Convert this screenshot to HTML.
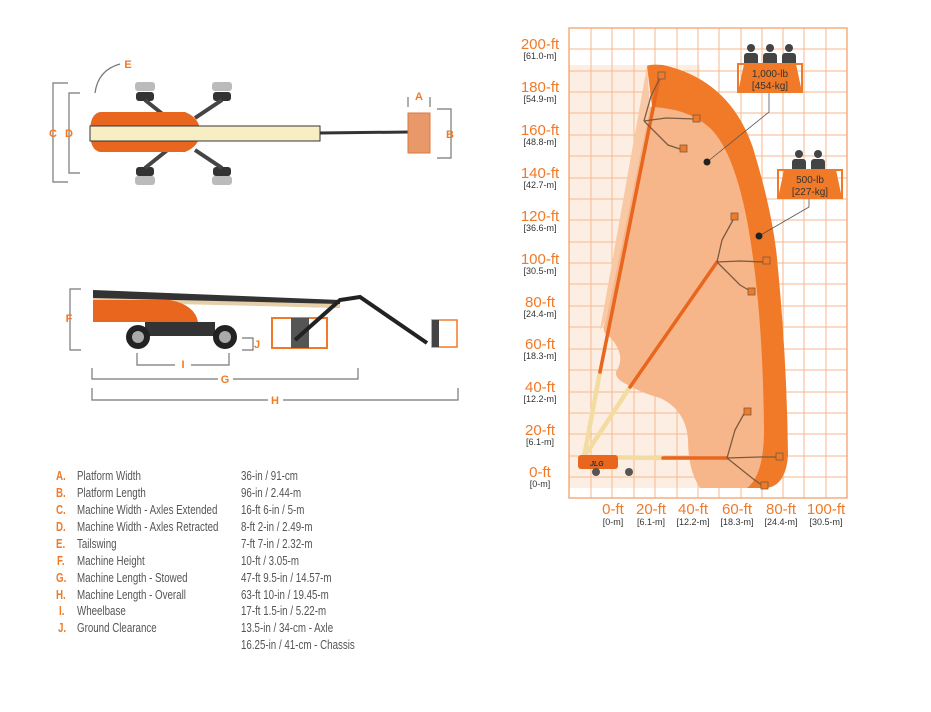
<!DOCTYPE html>
<html><head><meta charset="utf-8"><style>
body{margin:0;background:#fff;width:931px;height:712px;overflow:hidden;position:relative;font-family:"Liberation Sans",sans-serif}
.specs{position:absolute;left:0;top:0}
.r{position:absolute;font-size:12.5px;color:#555;white-space:nowrap;transform-origin:0 50%;transform:scaleX(0.78);line-height:14px}
.l{color:#f07a28;font-weight:bold}
</style></head><body>
<svg width="931" height="712" style="position:absolute;left:0;top:0" font-family="Liberation Sans, sans-serif">
<rect x="569" y="65" width="131" height="423" fill="#fdeee3"/>
<g stroke="#f6b98e" stroke-width="1">
<line x1="591" y1="28" x2="591" y2="498"/><line x1="612" y1="28" x2="612" y2="498"/><line x1="634" y1="28" x2="634" y2="498"/><line x1="655" y1="28" x2="655" y2="498"/><line x1="677" y1="28" x2="677" y2="498"/><line x1="698" y1="28" x2="698" y2="498"/><line x1="719" y1="28" x2="719" y2="498"/><line x1="741" y1="28" x2="741" y2="498"/><line x1="762" y1="28" x2="762" y2="498"/><line x1="783" y1="28" x2="783" y2="498"/><line x1="804" y1="28" x2="804" y2="498"/><line x1="826" y1="28" x2="826" y2="498"/>
<line x1="569" y1="49" x2="847" y2="49"/><line x1="569" y1="71" x2="847" y2="71"/><line x1="569" y1="92" x2="847" y2="92"/><line x1="569" y1="113" x2="847" y2="113"/><line x1="569" y1="135" x2="847" y2="135"/><line x1="569" y1="156" x2="847" y2="156"/><line x1="569" y1="178" x2="847" y2="178"/><line x1="569" y1="199" x2="847" y2="199"/><line x1="569" y1="220" x2="847" y2="220"/><line x1="569" y1="242" x2="847" y2="242"/><line x1="569" y1="263" x2="847" y2="263"/><line x1="569" y1="284" x2="847" y2="284"/><line x1="569" y1="306" x2="847" y2="306"/><line x1="569" y1="327" x2="847" y2="327"/><line x1="569" y1="349" x2="847" y2="349"/><line x1="569" y1="370" x2="847" y2="370"/><line x1="569" y1="392" x2="847" y2="392"/><line x1="569" y1="413" x2="847" y2="413"/><line x1="569" y1="434" x2="847" y2="434"/><line x1="569" y1="456" x2="847" y2="456"/><line x1="569" y1="477" x2="847" y2="477"/>
</g>
<rect x="569" y="28" width="278" height="470" fill="none" stroke="#f3a16a" stroke-width="1.3"/>
<path d="M647 66 Q650 64 663 65 Q730 80 753 148 Q772 210 777 258 Q787 360 788 455 Q786 485 767 488 L700 488 Z" fill="#f07a28"/>
<path d="M650 107 Q690 108 712 130 Q740 160 753 258 Q763 330 764 430 Q764 475 747 488 L700 488 Q688 470 688 440 Q686 410 660 398 Q640 392 630 386 Q612 378 617 370 Q626 355 610 337 Q600 333 606 320 Z" fill="#f7b68a"/>
<path d="M647 66 L650 107 L606 320 L600 330 Z" fill="#f9c9a6"/>
<g stroke-linecap="round">
<line x1="584" y1="457" x2="600" y2="372" stroke="#f3dca0" stroke-width="4.5"/>
<line x1="600" y1="372" x2="660" y2="74" stroke="#e8661e" stroke-width="3.5"/>
<line x1="584" y1="457" x2="630" y2="387" stroke="#f3dca0" stroke-width="4.5"/>
<line x1="630" y1="387" x2="717" y2="262" stroke="#e8661e" stroke-width="3.5"/>
<line x1="584" y1="457" x2="663" y2="458" stroke="#f3dca0" stroke-width="4.5"/>
<line x1="663" y1="458" x2="727" y2="458" stroke="#e8661e" stroke-width="3.5"/>
</g>
<g stroke="#7a5a40" stroke-width="1.3" fill="none">
<path d="M644 121 L666 118 L695 119"/><path d="M644 121 L668 145 L683 150"/><path d="M644 121 L651 96 L661 76"/>
<path d="M717 262 L740 261 L765 262"/><path d="M717 262 L740 285 L752 292"/><path d="M717 262 L722 240 L733 220"/>
<path d="M727 458 L760 457 L780 457"/><path d="M727 458 L752 478 L763 486"/><path d="M727 458 L735 430 L745 412"/>
</g>
<g fill="#f07a28" stroke="#7a5a40" stroke-width="0.8">
<rect x="658" y="72" width="7" height="7"/><rect x="693" y="115" width="7" height="7"/><rect x="680" y="145" width="7" height="7"/>
<rect x="731" y="213" width="7" height="7"/><rect x="763" y="257" width="7" height="7"/><rect x="748" y="288" width="7" height="7"/>
<rect x="744" y="408" width="7" height="7"/><rect x="776" y="453" width="7" height="7"/><rect x="761" y="482" width="7" height="7"/>
</g>
<rect x="578" y="455" width="40" height="14" rx="3" fill="#e8661e"/>
<text x="590" y="466" font-size="7" font-weight="bold" fill="#333" font-style="italic">JLG</text>
<circle cx="596" cy="472" r="4" fill="#555"/><circle cx="629" cy="472" r="4" fill="#555"/>
<polyline points="769,92 769,112 707,162" fill="none" stroke="#555" stroke-width="0.8"/>
<polyline points="809,198 809,207 759,236" fill="none" stroke="#555" stroke-width="0.8"/>
<circle cx="707" cy="162" r="3.5" fill="#222"/><circle cx="759" cy="236" r="3.5" fill="#222"/>
<g fill="#444">
<circle cx="751" cy="48" r="4"/><rect x="744" y="53" width="14" height="14" rx="3"/>
<circle cx="770" cy="48" r="4"/><rect x="763" y="53" width="14" height="14" rx="3"/>
<circle cx="789" cy="48" r="4"/><rect x="782" y="53" width="14" height="14" rx="3"/>
<circle cx="799" cy="154" r="4"/><rect x="792" y="159" width="14" height="14" rx="3"/>
<circle cx="818" cy="154" r="4"/><rect x="811" y="159" width="14" height="14" rx="3"/>
</g>
<path d="M738 64 H802 V92 H738 Z" fill="none" stroke="#f07a28" stroke-width="2"/>
<path d="M744 64 H796 L802 92 H738 Z" fill="#f07a28"/>
<text x="770" y="77" font-size="10" fill="#333" text-anchor="middle">1,000-lb</text>
<text x="770" y="89" font-size="10" fill="#333" text-anchor="middle">[454-kg]</text>
<path d="M778 170 H842 V198 H778 Z" fill="none" stroke="#f07a28" stroke-width="2"/>
<path d="M784 170 H836 L842 198 H778 Z" fill="#f07a28"/>
<text x="810" y="183" font-size="10" fill="#333" text-anchor="middle">500-lb</text>
<text x="810" y="195" font-size="10" fill="#333" text-anchor="middle">[227-kg]</text>
<g font-size="15" fill="#f07a28" text-anchor="middle">
<text x="540" y="49">200-ft</text><text x="540" y="92">180-ft</text><text x="540" y="135">160-ft</text><text x="540" y="178">140-ft</text><text x="540" y="221">120-ft</text><text x="540" y="264">100-ft</text><text x="540" y="307">80-ft</text><text x="540" y="349">60-ft</text><text x="540" y="392">40-ft</text><text x="540" y="435">20-ft</text><text x="540" y="477">0-ft</text>
</g>
<g font-size="9" fill="#333" text-anchor="middle">
<text x="540" y="59">[61.0-m]</text><text x="540" y="102">[54.9-m]</text><text x="540" y="145">[48.8-m]</text><text x="540" y="188">[42.7-m]</text><text x="540" y="231">[36.6-m]</text><text x="540" y="274">[30.5-m]</text><text x="540" y="317">[24.4-m]</text><text x="540" y="359">[18.3-m]</text><text x="540" y="402">[12.2-m]</text><text x="540" y="445">[6.1-m]</text><text x="540" y="487">[0-m]</text>
</g>
<g font-size="15" fill="#f07a28" text-anchor="middle">
<text x="613" y="514">0-ft</text><text x="651" y="514">20-ft</text><text x="693" y="514">40-ft</text><text x="737" y="514">60-ft</text><text x="781" y="514">80-ft</text><text x="826" y="514">100-ft</text>
</g>
<g font-size="9" fill="#333" text-anchor="middle">
<text x="613" y="525">[0-m]</text><text x="651" y="525">[6.1-m]</text><text x="693" y="525">[12.2-m]</text><text x="737" y="525">[18.3-m]</text><text x="781" y="525">[24.4-m]</text><text x="826" y="525">[30.5-m]</text>
</g>

<g fill="none" stroke="#777" stroke-width="1.2">
<polyline points="68,83 53,83 53,182 68,182"/>
<polyline points="80,93 69,93 69,173 80,173"/>
<path d="M95 93 Q98 70 120 64"/>
<polyline points="408,107 408,97"/><polyline points="430,107 430,97"/>
<polyline points="437,109 451,109 451,158 437,158"/>
<polyline points="81,289 70,289 70,350 81,350"/>
<polyline points="242,338 253,338 253,350 242,350"/>
<polyline points="137,353 137,365 175,365"/><polyline points="191,365 229,365 229,353"/>
<polyline points="92,368 92,379 218,379"/><polyline points="233,379 358,379 358,368"/>
<polyline points="92,388 92,400 268,400"/><polyline points="283,400 458,400 458,388"/>
</g>
<g fill="#bbb"><rect x="135" y="82" width="20" height="9" rx="3"/><rect x="212" y="82" width="20" height="9" rx="3"/><rect x="135" y="176" width="20" height="9" rx="3"/><rect x="212" y="176" width="20" height="9" rx="3"/></g>
<g fill="#333"><rect x="136" y="92" width="18" height="9" rx="3"/><rect x="213" y="92" width="18" height="9" rx="3"/><rect x="136" y="167" width="18" height="9" rx="3"/><rect x="213" y="167" width="18" height="9" rx="3"/></g>
<g stroke="#444" stroke-width="4"><line x1="145" y1="100" x2="170" y2="120"/><line x1="222" y1="100" x2="195" y2="118"/><line x1="145" y1="168" x2="170" y2="148"/><line x1="222" y1="168" x2="195" y2="150"/></g>
<path d="M100 112 H185 Q200 118 200 132 Q200 146 185 152 H100 Q90 150 90 132 Q90 114 100 112Z" fill="#e8661e"/>
<rect x="90" y="126" width="230" height="15" fill="#f8eec4" stroke="#333" stroke-width="1"/>
<line x1="320" y1="133" x2="410" y2="132" stroke="#333" stroke-width="3"/>
<rect x="408" y="113" width="22" height="40" fill="#e9986a" stroke="#d97a40"/>
<polygon points="93,290 340,300 340,308 93,300" fill="#333"/>
<polygon points="93,298 340,304 340,308 93,302" fill="#e5cfa8"/>
<path d="M93 300 H170 Q195 305 198 322 H93 Z" fill="#e8661e"/>
<rect x="145" y="322" width="70" height="14" fill="#333"/>
<circle cx="138" cy="337" r="12" fill="#222"/><circle cx="138" cy="337" r="6" fill="#aaa"/>
<circle cx="225" cy="337" r="12" fill="#222"/><circle cx="225" cy="337" r="6" fill="#aaa"/>
<rect x="272" y="318" width="55" height="30" fill="none" stroke="#f07a28" stroke-width="2"/>
<rect x="291" y="318" width="18" height="30" fill="#555"/>
<polyline points="295,340 340,300 360,297 427,343" fill="none" stroke="#222" stroke-width="4"/>
<rect x="432" y="320" width="25" height="27" fill="none" stroke="#f07a28" stroke-width="1.5"/>
<rect x="432" y="320" width="7" height="27" fill="#444"/>
<g font-size="11" font-weight="bold" fill="#f07a28" text-anchor="middle">
<text x="53" y="137">C</text><text x="69" y="137">D</text><text x="128" y="68">E</text><text x="419" y="100">A</text><text x="450" y="138">B</text>
<text x="69" y="322">F</text><text x="257" y="348">J</text><text x="183" y="368">I</text><text x="225" y="383">G</text><text x="275" y="404">H</text>
</g>
</svg>
<div class="specs">
<div class="r l" style="left:56px;top:469px">A.</div><div class="r" style="left:77px;top:469px">Platform Width</div><div class="r" style="left:241px;top:469px">36-in / 91-cm</div>
<div class="r l" style="left:56px;top:486px">B.</div><div class="r" style="left:77px;top:486px">Platform Length</div><div class="r" style="left:241px;top:486px">96-in / 2.44-m</div>
<div class="r l" style="left:56px;top:503px">C.</div><div class="r" style="left:77px;top:503px">Machine Width - Axles Extended</div><div class="r" style="left:241px;top:503px">16-ft 6-in / 5-m</div>
<div class="r l" style="left:56px;top:520px">D.</div><div class="r" style="left:77px;top:520px">Machine Width - Axles Retracted</div><div class="r" style="left:241px;top:520px">8-ft 2-in / 2.49-m</div>
<div class="r l" style="left:56px;top:537px">E.</div><div class="r" style="left:77px;top:537px">Tailswing</div><div class="r" style="left:241px;top:537px">7-ft 7-in / 2.32-m</div>
<div class="r l" style="left:57px;top:554px">F.</div><div class="r" style="left:77px;top:554px">Machine Height</div><div class="r" style="left:241px;top:554px">10-ft / 3.05-m</div>
<div class="r l" style="left:56px;top:571px">G.</div><div class="r" style="left:77px;top:571px">Machine Length - Stowed</div><div class="r" style="left:241px;top:571px">47-ft 9.5-in / 14.57-m</div>
<div class="r l" style="left:56px;top:588px">H.</div><div class="r" style="left:77px;top:588px">Machine Length - Overall</div><div class="r" style="left:241px;top:588px">63-ft 10-in / 19.45-m</div>
<div class="r l" style="left:59px;top:604px">I.</div><div class="r" style="left:77px;top:604px">Wheelbase</div><div class="r" style="left:241px;top:604px">17-ft 1.5-in / 5.22-m</div>
<div class="r l" style="left:58px;top:621px">J.</div><div class="r" style="left:77px;top:621px">Ground Clearance</div><div class="r" style="left:241px;top:621px">13.5-in / 34-cm - Axle</div>
<div class="r" style="left:241px;top:638px">16.25-in / 41-cm - Chassis</div>
</div>
</body></html>
